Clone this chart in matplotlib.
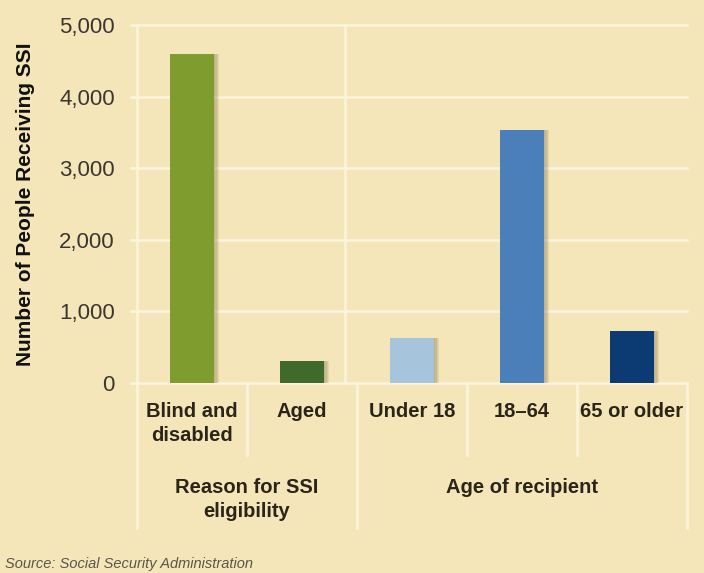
import matplotlib.pyplot as plt
from matplotlib.transforms import blended_transform_factory

# data
categories = ['Blind and\ndisabled', 'Aged', 'Under 18', '18\u201364', '65 or older']
values = [4590, 310, 630, 3530, 730]
bar_colors = ['#7f9c2f', '#3f6a2c', '#a6c5dc', '#4a7fb9', '#0c3a72']
groups = ['Reason for SSI\neligibility', 'Age of recipient']
group_sizes = [2, 3]
yticks = [0, 1000, 2000, 3000, 4000, 5000]

bg = '#f5e6b9'
grid_c = '#fcf4dc'
txt_c = '#2b2418'
fam = ['Liberation Sans', 'DejaVu Sans']

fig = plt.figure(figsize=(7.04, 5.73), dpi=100, facecolor=bg)
ax = fig.add_axes([0.1946, 0.3316, 0.7813, 0.6248])
ax.set_facecolor(bg)

x = list(range(len(categories)))
# soft shadow behind each bar (a few faint layers)
for off in (0.012, 0.024, 0.036, 0.048):
    ax.bar([i + off for i in x], values, width=0.4, color='#7a6d4c', alpha=0.13,
           zorder=2, linewidth=0)
ax.bar(x, values, width=0.4, color=bar_colors, zorder=3, linewidth=0)

ax.set_xlim(-0.5, len(categories) - 0.5)
ax.set_ylim(0, 5000)
for s in ax.spines.values():
    s.set_visible(False)

# horizontal gridlines
for t in yticks:
    ax.plot([-0.55, len(categories) - 0.5], [t, t], color=grid_c, lw=1.8,
            zorder=1, clip_on=False)
# vertical lines inside the plot
ax.plot([-0.5, -0.5], [0, 5000], color=grid_c, lw=1.8, zorder=1, clip_on=False)
ax.plot([1.39, 1.39], [0, 5000], color=grid_c, lw=1.8, zorder=1, clip_on=False)

ax.set_yticks(yticks)
ax.set_yticklabels([f'{t:,}' for t in yticks], family=fam, fontsize=16,
                   color='#3a3630')
ax.tick_params(axis='y', length=0, pad=16)
ax.set_xticks(x)
ax.set_xticklabels(categories, family=fam, fontsize=14.5, fontweight='bold',
                   color=txt_c, linespacing=1.3, va='top')
ax.tick_params(axis='x', length=0, pad=14)

ax.set_ylabel('Number of People Receiving SSI', family=fam, fontsize=15,
              fontweight='bold', color='#111111')
ax.yaxis.set_label_coords(-0.185, 0.5)

# separators below the axis and group labels
tr = blended_transform_factory(ax.transData, ax.transAxes)
start = -0.5
bounds = [start]
for g in group_sizes:
    start += g
    bounds.append(start)
for b in range(len(categories) + 1):
    xb = b - 0.5
    depth = -0.405 if xb in bounds else -0.2
    ax.plot([xb, xb], [0, depth], color=grid_c, lw=1.8, transform=tr,
            clip_on=False)
for lab, a, b in zip(groups, bounds[:-1], bounds[1:]):
    ax.text((a + b) / 2, -0.265, lab, transform=tr, ha='center', va='top',
            family=fam, fontsize=14.5, fontweight='bold', color=txt_c,
            linespacing=1.35)

fig.text(0.007, 0.003, 'Source: Social Security Administration', family=fam,
         fontsize=10.5, style='italic', color='#5a5548', ha='left', va='bottom')

fig.savefig('out.png', dpi=100, facecolor=bg)
